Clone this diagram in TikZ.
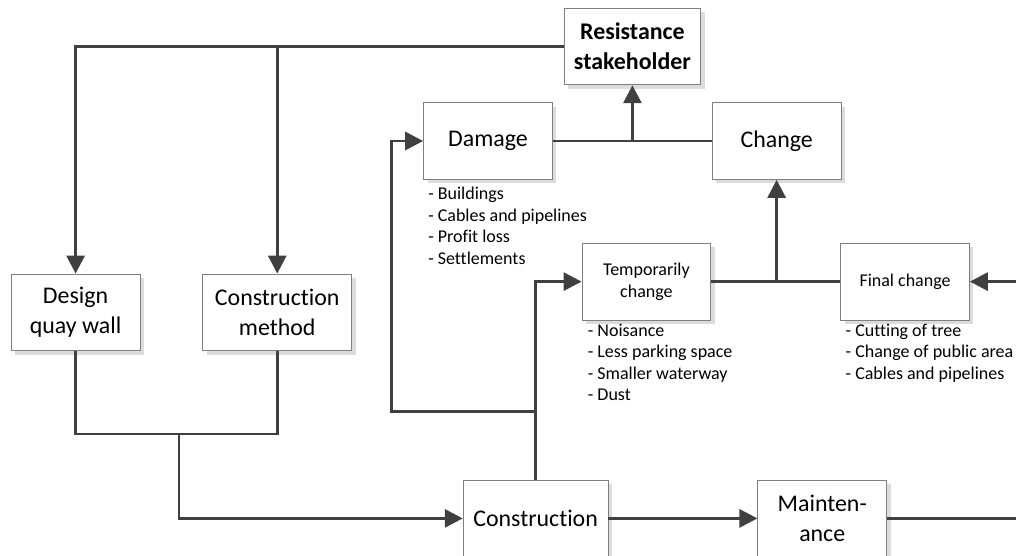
\documentclass[tikz,border=0pt]{standalone}
\usepackage{fontspec}
\setmainfont{Carlito}[Ligatures=NoCommon]
\usepackage{tikz}
\usetikzlibrary{positioning,arrows.meta,shadows,calc}
\definecolor{linegray}{HTML}{404040}
\definecolor{boxgray}{HTML}{7F7F7F}
\definecolor{shadowgray}{HTML}{DCDCDC}

\begin{document}
\begin{tikzpicture}[
  box/.style={rectangle,draw=boxgray,fill=white,line width=0.6pt,minimum height=1.92cm,
              minimum width=3.22cm,align=center,font=\fontsize{17}{21.3}\selectfont,
              drop shadow={shadow xshift=0.1cm,shadow yshift=-0.1cm,fill=shadowgray,opacity=1}},
  smallbox/.style={box,font=\fontsize{12.8}{15.3}\selectfont},
  lst/.style={inner sep=0pt,align=left,anchor=north west,font=\fontsize{12.8}{15.3}\selectfont},
  ln/.style={line width=2.1pt,draw=linegray},
  arr/.style={ln,-{Triangle[length=0.45cm,width=0.45cm]}}
]
\useasboundingbox (0,0) rectangle (25.4,-13.875);
\clip (0,0) rectangle (25.4,-13.875);
\node[box,minimum width=3.42cm] (res) at (15.81,-1.16) {\textbf{Resistance}\\ \textbf{stakeholder}};
\node[box] (dmg) at (12.2,-3.525) {Damage};
\node[box,right=3.975cm of dmg] (chg) {Change};
\node[smallbox] (tmp) at (16.16,-7.04) {Temporarily\\ change};
\node[smallbox,right=3.225cm of tmp] (fin) {Final change};
\node[box] (dsg) at (1.89,-7.81) {Design\\ quay wall};
\node[box,right=1.55cm of dsg,minimum width=3.72cm] (cm) {Construction\\ method};
\node[box,minimum width=3.62cm] (con) at (13.39,-12.96) {Construction};
\node[box,right=3.725cm of con] (mnt) {Mainten-\\ ance};
\node[lst] (dmgl) at ([xshift=0.12cm,yshift=-0.18cm]dmg.south west) {- Buildings\\ - Cables and pipelines\\ - Profit loss\\ - Settlements};
\node[lst] (tmpl) at ([xshift=0.15cm,yshift=-0.08cm]tmp.south west) {- Noisance\\ - Less parking space\\ - Smaller waterway\\ - Dust};
\node[lst] (finl) at ([xshift=0.13cm,yshift=-0.08cm]fin.south west) {- Cutting of tree\\ - Change of public area\\ - Cables and pipelines};
\coordinate (jn) at (4.475,-10.85);
\coordinate (br) at ($(con.north)+(0,1.71)$);
\draw[arr] (res.west) -| (dsg.north);
\draw[arr] (cm.north |- res.west) -- (cm.north);
\draw[ln] (dmg) -- (chg);
\draw[arr] (res.south |- dmg.east) -- (res.south);
\draw[ln] (tmp) -- (fin);
\draw[arr] (chg.south |- tmp.east) -- (chg.south);
\draw[ln] (dsg.south) |- (jn) -| (cm.south);
\draw[arr] (jn) |- (con.west);
\draw[arr] (con.north) |- (tmp.west);
\draw[arr] (br) -- ++(-3.61,0) |- (dmg.west);
\draw[arr] (con) -- (mnt);
\draw[arr] (mnt.east) -- ++(4,0) |- (fin.east);
\end{tikzpicture}
\end{document}
